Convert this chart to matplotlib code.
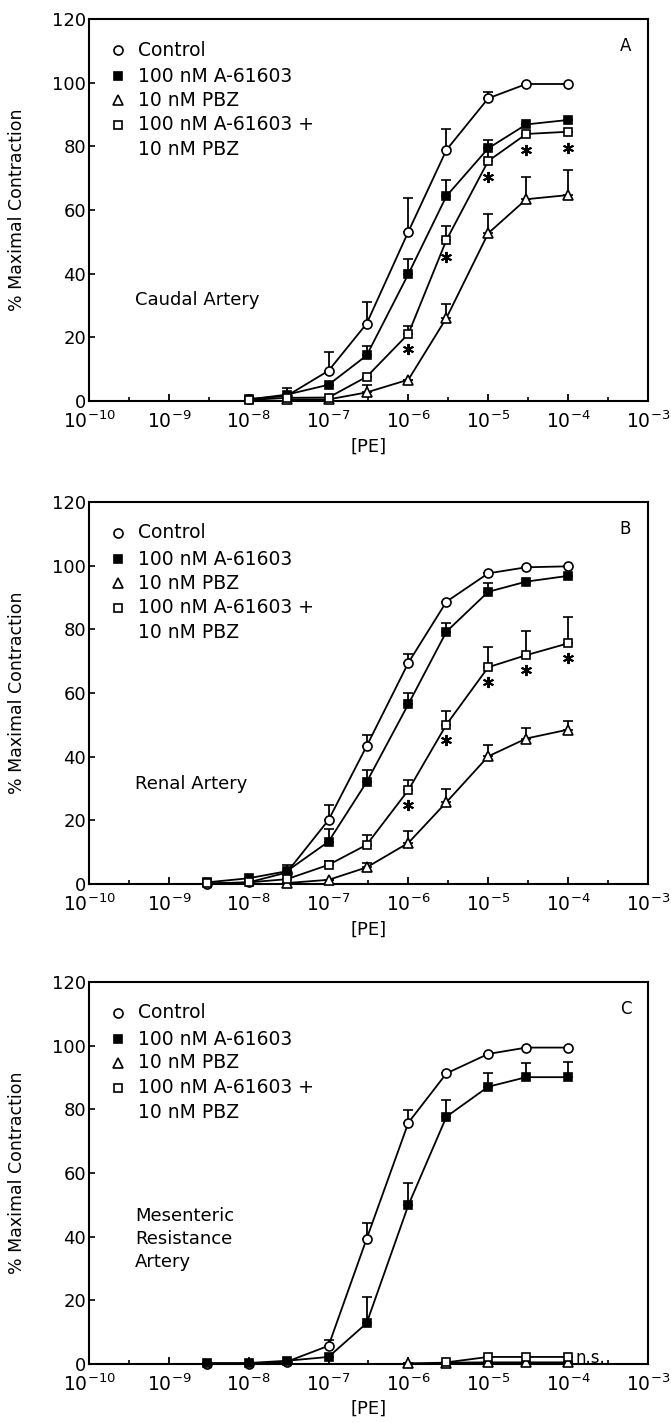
import numpy as np
import matplotlib
matplotlib.use("Agg")
import matplotlib.pyplot as plt
from matplotlib.ticker import FixedLocator, LogFormatterMathtext, NullFormatter

# ---- data: [PE] (M) vs % maximal contraction, upper SEM ----
# panel A, caudal artery
A_ctrl_x = [1e-8, 3e-8, 1e-7, 3e-7, 1e-6, 3e-6, 1e-5, 3e-5, 1e-4]
A_ctrl_y = [0.6, 1.6, 9.5, 24.3, 53.2, 78.9, 95.1, 99.6, 99.6]
A_ctrl_e = [0, 2.5, 5.8, 6.8, 10.5, 6.5, 1.9, 0, 0]
A_a6_x = [1e-8, 3e-8, 1e-7, 3e-7, 1e-6, 3e-6, 1e-5, 3e-5, 1e-4]
A_a6_y = [0.5, 2.0, 5.1, 14.3, 39.9, 64.4, 79.4, 86.9, 88.3]
A_a6_e = [0, 0, 0, 3.1, 4.6, 5.0, 2.6, 0, 0]
A_pbz_x = [3e-8, 1e-7, 3e-7, 1e-6, 3e-6, 1e-5, 3e-5, 1e-4]
A_pbz_y = [0.5, 0.5, 2.7, 6.7, 26.1, 52.7, 63.4, 64.7]
A_pbz_e = [0, 0, 2.4, 0, 4.5, 6.0, 7.1, 7.9]
A_comb_x = [1e-8, 3e-8, 1e-7, 3e-7, 1e-6, 3e-6, 1e-5, 3e-5, 1e-4]
A_comb_y = [0.3, 1.0, 1.1, 7.6, 21.1, 50.6, 75.4, 83.9, 84.6]
A_comb_e = [0, 0, 0, 0, 2.6, 4.5, 4.0, 0, 0]
A_star_x = [1e-6, 3e-6, 1e-5, 3e-5, 1e-4]
A_star_y = [16.3, 45.3, 70.5, 78.9, 79.6]

# panel B, renal artery
B_ctrl_x = [3e-9, 1e-8, 3e-8, 1e-7, 3e-7, 1e-6, 3e-6, 1e-5, 3e-5, 1e-4]
B_ctrl_y = [0, 0.5, 3.6, 20.1, 43.3, 69.5, 88.7, 97.6, 99.5, 99.8]
B_ctrl_e = [0, 0, 0, 4.8, 3.4, 2.8, 0, 0, 0, 0]
B_a6_x = [3e-9, 1e-8, 3e-8, 1e-7, 3e-7, 1e-6, 3e-6, 1e-5, 3e-5, 1e-4]
B_a6_y = [0.5, 1.8, 4.0, 13.3, 32.0, 56.5, 79.3, 91.8, 95.0, 96.8]
B_a6_e = [0, 0, 2.0, 4.0, 3.7, 3.6, 2.6, 2.7, 0, 0]
B_pbz_x = [3e-8, 1e-7, 3e-7, 1e-6, 3e-6, 1e-5, 3e-5, 1e-4]
B_pbz_y = [0.3, 1.3, 5.2, 12.9, 25.7, 40.1, 45.7, 48.5]
B_pbz_e = [0, 0, 1.5, 3.6, 4.2, 3.5, 3.4, 2.7]
B_comb_x = [3e-9, 1e-8, 3e-8, 1e-7, 3e-7, 1e-6, 3e-6, 1e-5, 3e-5, 1e-4]
B_comb_y = [0.2, 0.5, 1.5, 6.0, 12.3, 29.5, 50.1, 68.1, 71.9, 75.6]
B_comb_e = [0, 0, 0, 1.2, 3.1, 3.2, 4.3, 6.5, 7.7, 8.2]
B_star_x = [1e-6, 3e-6, 1e-5, 3e-5, 1e-4]
B_star_y = [24.9, 45.1, 63.6, 67.2, 70.9]

# panel C, mesenteric resistance artery
C_ctrl_x = [3e-9, 1e-8, 3e-8, 1e-7, 3e-7, 1e-6, 3e-6, 1e-5, 3e-5, 1e-4]
C_ctrl_y = [0, 0, 0.7, 5.7, 39.3, 75.8, 91.3, 97.4, 99.4, 99.4]
C_ctrl_e = [0, 0, 0, 1.7, 5.0, 4.0, 0, 0, 0, 0]
C_a6_x = [3e-9, 1e-8, 3e-8, 1e-7, 3e-7, 1e-6, 3e-6, 1e-5, 3e-5, 1e-4]
C_a6_y = [0.3, 0.3, 1.0, 2.2, 12.8, 49.9, 77.7, 87.1, 90.1, 90.1]
C_a6_e = [0, 0, 0, 0, 8.3, 7.1, 5.2, 4.2, 4.6, 4.8]
C_pbz_x = [1e-6, 3e-6, 1e-5, 3e-5, 1e-4]
C_pbz_y = [0.2, 0.4, 0.5, 0.5, 0.5]
C_pbz_e = [0, 0, 0, 0, 0]
C_comb_x = [3e-6, 1e-5, 3e-5, 1e-4]
C_comb_y = [0.5, 2.2, 2.2, 2.2]
C_comb_e = [0, 0, 0, 0]
C_star_x = []
C_star_y = []

legend_labels = ["Control", "100 nM A-61603", "10 nM PBZ", "100 nM A-61603 +"]
legend_extra = "10 nM PBZ"
panel_letters = ["A", "B", "C"]
tissue_labels = ["Caudal Artery", "Renal Artery", "Mesenteric\nResistance\nArtery"]
yticks = [0, 20, 40, 60, 80, 100, 120]

# marker styles: control, A-61603, PBZ, combination
styles = [
    dict(marker='o', mfc='white', ms=6.5),
    dict(marker='s', mfc='black', ms=6),
    dict(marker='^', mfc='white', ms=6.5),
    dict(marker='s', mfc='white', ms=6),
]

panels = [
    [(A_ctrl_x, A_ctrl_y, A_ctrl_e), (A_a6_x, A_a6_y, A_a6_e),
     (A_pbz_x, A_pbz_y, A_pbz_e), (A_comb_x, A_comb_y, A_comb_e), (A_star_x, A_star_y)],
    [(B_ctrl_x, B_ctrl_y, B_ctrl_e), (B_a6_x, B_a6_y, B_a6_e),
     (B_pbz_x, B_pbz_y, B_pbz_e), (B_comb_x, B_comb_y, B_comb_e), (B_star_x, B_star_y)],
    [(C_ctrl_x, C_ctrl_y, C_ctrl_e), (C_a6_x, C_a6_y, C_a6_e),
     (C_pbz_x, C_pbz_y, C_pbz_e), (C_comb_x, C_comb_y, C_comb_e), (C_star_x, C_star_y)],
]

fig = plt.figure(figsize=(6.71, 14.23), dpi=100)
bottoms = [0.7182, 0.3788, 0.0415]
tissue_y = [0.264, 0.262, 0.328]

for k in range(3):
    ax = fig.add_axes([0.1326, bottoms[k], 0.833, 0.2684])
    ax.set_xscale('log')
    ax.set_xlim(1e-10, 1e-3)
    ax.set_ylim(0, 120)
    data = panels[k]
    # draw series (order: PBZ, comb, A-61603, control)
    for i in [2, 3, 1, 0]:
        x, y, e = data[i]
        st = styles[i]
        ax.errorbar(x, y, yerr=[np.zeros(len(e)), e], color='black', lw=1.3,
                    marker=st['marker'], mfc=st['mfc'], mec='black', ms=st['ms'],
                    mew=1.2, capsize=3.6, capthick=1.3, elinewidth=1.3,
                    clip_on=False, zorder=3 + i)
    sx, sy = data[4]
    if len(sx):
        ax.plot(sx, sy, ls='none', marker=(6, 2, 0), ms=8, mew=1.4, color='black', zorder=8)
    if k == 2:
        ax.text(1.25e-4, 2.0, "n.s.", fontsize=12, va='center', ha='left')

    # legend drawn by hand
    ly = [0.919, 0.85, 0.788, 0.723]
    for i in range(4):
        st = styles[i]
        ax.plot([0.052], [ly[i]], transform=ax.transAxes, marker=st['marker'],
                mfc=st['mfc'], mec='black', ms=st['ms'], mew=1.2, ls='none', clip_on=False)
        ax.text(0.088, ly[i], legend_labels[i], transform=ax.transAxes,
                fontsize=13.5, va='center', ha='left')
    ax.text(0.088, 0.658, legend_extra, transform=ax.transAxes,
            fontsize=13.5, va='center', ha='left')

    ax.text(0.96, 0.93, panel_letters[k], transform=ax.transAxes, fontsize=12,
            ha='center', va='center')
    ax.text(0.082, tissue_y[k], tissue_labels[k], transform=ax.transAxes,
            fontsize=13, ha='left', va='center', linespacing=1.35)

    ax.xaxis.set_major_locator(FixedLocator([10.0 ** p for p in range(-10, -2)]))
    ax.xaxis.set_major_formatter(LogFormatterMathtext())
    ax.xaxis.set_minor_locator(FixedLocator([10.0 ** (p + 0.5) for p in range(-10, -3)]))
    ax.xaxis.set_minor_formatter(NullFormatter())
    ax.set_yticks(yticks)
    ax.tick_params(axis='x', which='major', direction='in', length=5, width=1.3,
                   labelsize=13.5, pad=7, top=False)
    ax.tick_params(axis='x', which='minor', direction='in', length=3, width=1.2, top=False)
    ax.tick_params(axis='y', direction='in', length=4, width=1.2, labelsize=13,
                   pad=2, right=False)
    for s in ax.spines.values():
        s.set_linewidth(1.5)

    ax.set_xlabel('[PE]', fontsize=13)
    ax.xaxis.set_label_coords(0.5, -0.095)
    ax.set_ylabel('% Maximal Contraction', fontsize=12.5)
    ax.yaxis.set_label_coords(-0.112, 0.5)

plt.savefig('out.png', dpi=100)
